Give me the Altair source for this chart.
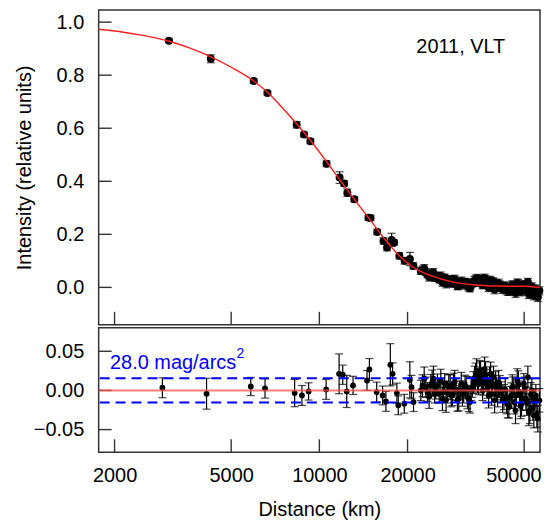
import altair as alt
import pandas as pd

# ---------------- data ----------------
# fitted profile (red curve), distance in km / relative intensity
curve_d = [1765, 2118, 2500, 3069, 3600, 4285, 5000, 5970, 6680, 7324, 8337, 9376, 10581,
           11720, 13165, 14706, 16788, 18750, 20941, 24044, 28380, 33500, 40660, 49740, 56620]
curve_i = [0.973, 0.963, 0.950, 0.928, 0.903, 0.868, 0.830, 0.778, 0.734, 0.688, 0.619, 0.551,
           0.474, 0.407, 0.332, 0.263, 0.179, 0.119, 0.075, 0.044, 0.021, 0.010, 0.005, 0.004,
           0.000]

# measured points (upper panel, inner part)
top_d = [3067, 4262, 5970, 6650, 8366, 8866, 9318, 10581, 11722, 12148, 12458, 13163,
         14704, 14950, 15754, 16558, 17020, 17644, 17990, 18750, 19540, 20370, 20941]
top_i = [0.930, 0.862, 0.778, 0.733, 0.613, 0.576, 0.551, 0.466, 0.414, 0.392, 0.357, 0.332,
         0.263, 0.262, 0.209, 0.175, 0.150, 0.179, 0.169, 0.119, 0.100, 0.107, 0.081]
top_e = [0.006, 0.015, 0.007, 0.007, 0.012, 0.009, 0.009, 0.011, 0.022, 0.010, 0.014, 0.010,
         0.010, 0.010, 0.010, 0.012, 0.012, 0.025, 0.010, 0.012, 0.012, 0.025, 0.012]

# residuals (lower panel, inner part)
res_d = [2913, 4121, 5834, 6525, 8234, 8721, 9190, 10546, 11678, 12020, 12402, 13031,
         14544, 14818, 15691, 16444, 16874, 17467, 17783, 18390, 18594, 19490, 20362,
         20636, 20961]
res_r = [0.0034, -0.0042, 0.0050, 0.0025, -0.0034, -0.0064, -0.0013, 0.0013, 0.0212, 0.0200,
         -0.0013, 0.0064, 0.0127, 0.0267, -0.0021, -0.0064, -0.0140, 0.0327, 0.0212, -0.0034,
         -0.0190, -0.0170, 0.0136, 0.0042, -0.0149]
res_e = [0.0127, 0.0197, 0.0116, 0.0123, 0.0174, 0.0127, 0.0110, 0.0127, 0.0254, 0.0123,
         0.0205, 0.0116, 0.0127, 0.0140, 0.0127, 0.0120, 0.0127, 0.0270, 0.0140, 0.0127,
         0.0120, 0.0120, 0.0230, 0.0150, 0.0120]

# outer, densely sampled part (both panels)
cloud_d = [22197, 22793, 23388, 24004, 24518, 24963, 25633, 26308, 26785, 27358, 27943,
           28449, 28965, 29586, 30220, 30768, 31427, 31996, 32680, 33273, 33876, 34411,
           34955, 35508, 36068, 36638, 37216, 37813, 38410, 39017, 39633, 40259, 40895,
           41762, 42655, 43537, 44356, 45170, 45884, 46717, 47345, 48203, 48965, 49888,
           50677, 51477, 52291, 53117, 53957, 54808, 55674, 56370,
           22495, 23090, 23696, 24261, 24740, 25298, 25970, 26546, 27071, 27650, 28196,
           28707, 29275, 29903, 30494, 31097, 31711, 32338, 32976, 33574, 34143, 34683,
           35231, 35788, 36353, 36927, 37514, 38111, 38713, 39325, 39946, 40577, 41328,
           42208, 43096, 43946, 44763, 45527, 46300, 47031, 47774, 48584, 49426, 50282,
           51077, 51884, 52704, 53537, 54382, 55241]
cloud_i = [0.062, 0.071, 0.048, 0.050, 0.055, 0.039, 0.029, 0.019, 0.037, 0.023, 0.027,
           0.015, 0.031, 0.005, 0.017, 0.012, 0.021, 0.006, -0.003, 0.015, 0.025, 0.034,
           0.018, 0.029, 0.008, 0.035, 0.020, 0.000, 0.027, 0.012, -0.008, 0.007, 0.016,
           0.003, -0.004, -0.010, -0.016, -0.001, 0.009, -0.021, 0.017, 0.002, -0.013,
           0.012, -0.008, 0.020, -0.023, 0.002, -0.031, -0.005, -0.036, -0.013,
           0.066, 0.057, 0.039, 0.052, 0.035, 0.042, 0.043, 0.026, 0.014, 0.030, 0.016,
           0.029, 0.020, 0.008, 0.024, 0.012, 0.018, 0.002, 0.013, 0.020, 0.027, 0.021,
           0.030, 0.023, 0.016, 0.027, 0.009, 0.020, 0.002, 0.022, 0.013, -0.001, 0.010,
           -0.007, 0.006, -0.013, -0.004, 0.009, -0.011, -0.002, 0.012, -0.016, -0.006,
           0.007, -0.013, -0.025, -0.003, -0.020, -0.011, -0.029]
cloud_r = [0.0000, 0.0149, -0.0020, 0.0064, 0.0150, 0.0020, -0.0040, -0.0106, 0.0085,
           -0.0020, 0.0042, -0.0064, 0.0106, -0.0127, 0.0000, -0.0042, 0.0064, -0.0085,
           -0.0149, 0.0042, 0.0149, 0.0254, 0.0085, 0.0212, 0.0000, 0.0276, 0.0127, -0.0064,
           0.0212, 0.0064, -0.0127, 0.0020, 0.0106, -0.0020, -0.0085, -0.0149, -0.0212,
           -0.0064, 0.0042, -0.0254, 0.0127, -0.0020, -0.0170, 0.0085, -0.0106, 0.0170,
           -0.0254, 0.0000, -0.0318, -0.0064, -0.0360, -0.0127,
           0.006, 0.004, -0.008, 0.010, -0.004, 0.007, 0.012, -0.002, -0.012, 0.006, -0.006,
           0.009, 0.001, -0.010, 0.008, -0.003, 0.004, -0.011, 0.002, 0.010, 0.018, 0.012,
           0.022, 0.015, 0.009, 0.020, 0.003, 0.014, -0.004, 0.017, 0.008, -0.006, 0.005,
           -0.012, 0.001, -0.018, -0.009, 0.004, -0.015, -0.006, 0.008, -0.020, -0.010,
           0.003, -0.016, -0.028, -0.005, -0.022, -0.012, -0.030]
cloud_e = [0.013, 0.015, 0.012, 0.014, 0.016, 0.013, 0.012, 0.015, 0.013, 0.014, 0.016,
           0.013, 0.015, 0.014, 0.012, 0.016, 0.013, 0.015, 0.014, 0.013, 0.016, 0.015,
           0.014, 0.016, 0.013, 0.015, 0.014, 0.016, 0.015, 0.013, 0.016, 0.014, 0.015,
           0.013, 0.016, 0.015, 0.014, 0.016, 0.013, 0.017, 0.015, 0.014, 0.016, 0.013,
           0.015, 0.014, 0.017, 0.015, 0.016, 0.014, 0.017, 0.015,
           0.014, 0.013, 0.015, 0.016, 0.012, 0.014, 0.015, 0.013, 0.016, 0.014, 0.015,
           0.013, 0.014, 0.016, 0.015, 0.013, 0.014, 0.016, 0.015, 0.014, 0.017, 0.015,
           0.016, 0.014, 0.015, 0.017, 0.013, 0.016, 0.015, 0.014, 0.016, 0.015, 0.014,
           0.016, 0.015, 0.017, 0.014, 0.016, 0.015, 0.014, 0.017, 0.016, 0.015, 0.014,
           0.016, 0.017, 0.015, 0.016, 0.014, 0.017]

x_ticks = [2000, 5000, 10000, 20000, 50000]
y_ticks_top = [0.0, 0.2, 0.4, 0.6, 0.8, 1.0]
y_ticks_bot = [-0.05, 0.0, 0.05]
limit = [-0.0155, 0.0155]

x_domain = [1765, 56640]
y_domain_top = [-0.141, 1.046]
y_domain_bot = [-0.079, 0.080]

# ---------------- tables ----------------
top_df = pd.DataFrame({"d": top_d + cloud_d, "v": top_i + cloud_i, "e": top_e + cloud_e})
bot_df = pd.DataFrame({"d": res_d + cloud_d, "v": res_r + cloud_r, "e": res_e + cloud_e})
curve_df = pd.DataFrame({"d": curve_d, "v": curve_i})
xt_df = pd.DataFrame({"d": x_ticks})
ytt_df = pd.DataFrame({"v": y_ticks_top})
ytb_df = pd.DataFrame({"v": y_ticks_bot})
lim_df = pd.DataFrame({"v": limit})
zero_df = pd.DataFrame({"v": [0.0]})
lab_top = pd.DataFrame({"d": [43100], "v": [0.908], "t": ["2011, VLT"]})
lab_bot = pd.DataFrame({"d": [1930], "v": [0.0344], "t": ["28.0 mag/arcs"]})

W, H1, H2 = 443, 316, 125
FONT = "Liberation Sans"
TICK = "#333333"

xs = alt.Scale(type="log", domain=x_domain, nice=False)
ys_top = alt.Scale(domain=y_domain_top, nice=False, zero=False)
ys_bot = alt.Scale(domain=y_domain_bot, nice=False, zero=False)

last_label = "datum.value == 50000"
ax_x_top = alt.Axis(labels=False, ticks=False, domain=False, grid=False, title=None)
ax_x_bot = alt.Axis(values=x_ticks, format="d", ticks=False, domain=False, grid=False,
                    labelPadding=13, title="Distance (km)", titlePadding=14,
                    labelFlush=False,
                    labelAlign={"condition": {"test": last_label, "value": "right"},
                                "value": "center"},
                    labelOffset={"condition": {"test": last_label, "value": 17},
                                 "value": 0})
ax_y_top = alt.Axis(values=y_ticks_top, format=".1f", ticks=False, domain=False, grid=False,
                    labelPadding=15, title="Intensity (relative units)", titlePadding=22)
ax_y_bot = alt.Axis(values=y_ticks_bot, format=".2f", ticks=False, domain=False, grid=False,
                    labelPadding=15, title=None)


def panel(df, ys, ax_y, height, dot, cap, yticks_df):
    X = alt.X("d:Q", scale=xs, axis=ax_x_top if height == H1 else ax_x_bot)
    Y = alt.Y("v:Q", scale=ys, axis=ax_y)
    base = alt.Chart(df).transform_calculate(lo="datum.v - datum.e", hi="datum.v + datum.e")
    bars = base.mark_rule(color="black", strokeWidth=1.2).encode(
        x=X, y=alt.Y("lo:Q", scale=ys, axis=ax_y), y2="hi:Q")
    cap_lo = base.mark_tick(color="black", orient="horizontal", size=cap, thickness=1.2).encode(
        x=X, y=alt.Y("lo:Q", scale=ys, axis=ax_y))
    cap_hi = base.mark_tick(color="black", orient="horizontal", size=cap, thickness=1.2).encode(
        x=X, y=alt.Y("hi:Q", scale=ys, axis=ax_y))
    pts = base.mark_circle(color="black", size=dot, opacity=1).encode(x=X, y=Y)
    xt = alt.Chart(xt_df).mark_rule(color=TICK, strokeWidth=1.4).encode(
        x=X, y=alt.value(height - 13), y2=alt.value(height))
    yt = alt.Chart(yticks_df).mark_rule(color=TICK, strokeWidth=1.4).encode(
        y=Y, x=alt.value(0), x2=alt.value(13))
    return X, Y, [bars, cap_lo, cap_hi, pts, xt, yt]


Xt, Yt, top_layers = panel(top_df, ys_top, ax_y_top, H1, 64, 8, ytt_df)
curve = alt.Chart(curve_df).mark_line(color="#ff2020", strokeWidth=1.4,
                                      interpolate="monotone").encode(x=Xt, y=Yt)
t_top = alt.Chart(lab_top).mark_text(align="right", baseline="middle", fontSize=20,
                                     font=FONT, color="black").encode(x=Xt, y=Yt, text="t:N")
top = alt.layer(*top_layers, curve, t_top).properties(width=W, height=H1)

Xb, Yb, bot_layers = panel(bot_df, ys_bot, ax_y_bot, H2, 34, 8, ytb_df)
zero = alt.Chart(zero_df).mark_rule(color="#ff5050", strokeWidth=2, opacity=0.75).encode(y=Yb)
lims = alt.Chart(lim_df).mark_rule(color="#0000ff", strokeWidth=2,
                                   strokeDash=[10, 6]).encode(y=Yb)
t_bot = alt.Chart(lab_bot).mark_text(align="left", baseline="middle", fontSize=20,
                                     font=FONT, color="#0000ff").encode(x=Xb, y=Yb, text="t:N")
t_sup = alt.Chart(lab_bot).mark_text(align="left", baseline="middle", fontSize=14,
                                     font=FONT, color="#0000ff", dx=127, dy=-9,
                                     text="2").encode(x=Xb, y=Yb)
bottom = alt.layer(*bot_layers, zero, lims, t_bot, t_sup).properties(width=W, height=H2)

chart = alt.vconcat(top, bottom, spacing=3, bounds="flush").properties(
    padding={"left": 5, "top": 0, "right": 0, "bottom": 0}
).configure_view(
    stroke="#333333", strokeWidth=1.5
).configure_axis(
    labelFont=FONT, titleFont=FONT, labelFontSize=20, titleFontSize=20,
    labelColor="black", titleColor="black", titleFontWeight="normal"
)

chart.save("out.html", embed_options={"renderer": "svg", "actions": False})
